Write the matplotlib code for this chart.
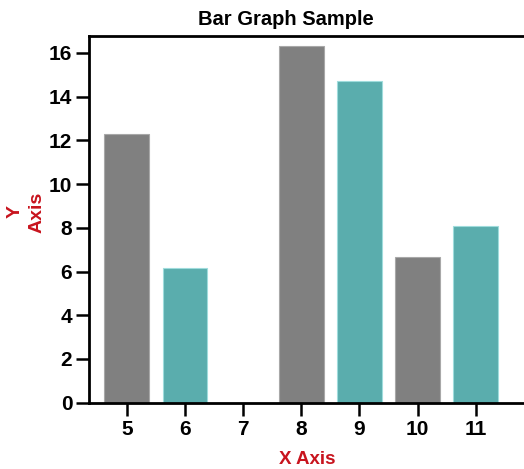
import matplotlib
matplotlib.use("Agg")
import matplotlib.pyplot as plt

plt.rcParams['font.family'] = ['Liberation Sans', 'DejaVu Sans']

# values
x_vals = [5, 6, 8, 9, 10, 11]
y_vals = [12.3, 6.15, 16.33, 14.69, 6.65, 8.06]
bar_colors = ['#808080', '#5aadad', '#808080', '#5aadad', '#808080', '#5aadad']
edge_colors = ['#a8a8a8', '#9fdcdc', '#a8a8a8', '#9fdcdc', '#a8a8a8', '#9fdcdc']
x_ticks = [5, 6, 7, 8, 9, 10, 11]
y_ticks = [0, 2, 4, 6, 8, 10, 12, 14, 16]

W, H = 524, 469
fig = plt.figure(figsize=(W / 100, H / 100), dpi=100)
ax = fig.add_axes([89 / W, (H - 402.7) / H, (W - 89) / W, (402.7 - 36) / H])

ax.bar(x_vals, y_vals, width=0.77, color=bar_colors, edgecolor=edge_colors,
       linewidth=0.8, zorder=2)

ax.set_xlim(4.35, 11.83)
ax.set_ylim(0, 16.77)
ax.set_xticks(x_ticks)
ax.set_yticks(y_ticks)

for side in ['left', 'top', 'bottom']:
    ax.spines[side].set_linewidth(2)
    ax.spines[side].set_color('black')
ax.spines['right'].set_visible(False)

ax.tick_params(axis='both', length=9.5, width=1.8, color='black',
               labelsize=15)
ax.tick_params(axis='y', pad=2.5)
ax.tick_params(axis='x', pad=3)
for lbl in ax.get_xticklabels() + ax.get_yticklabels():
    lbl.set_fontweight('bold')

fig.text(286 / W, 1 - 25 / H, 'Bar Graph Sample', ha='center', va='baseline',
         fontsize=14.5, fontweight='bold', color='black')
fig.text(307 / W, (H - 464) / H, 'X Axis', ha='center', va='baseline',
         fontsize=13.5, fontweight='bold', color='#c8141e')
fig.text(26 / W, (H - 212) / H, 'Y\nAxis', ha='center', va='center',
         rotation=90, multialignment='center', linespacing=1.35,
         fontsize=14, fontweight='bold', color='#c8141e')

fig.savefig('out.png', dpi=100)
